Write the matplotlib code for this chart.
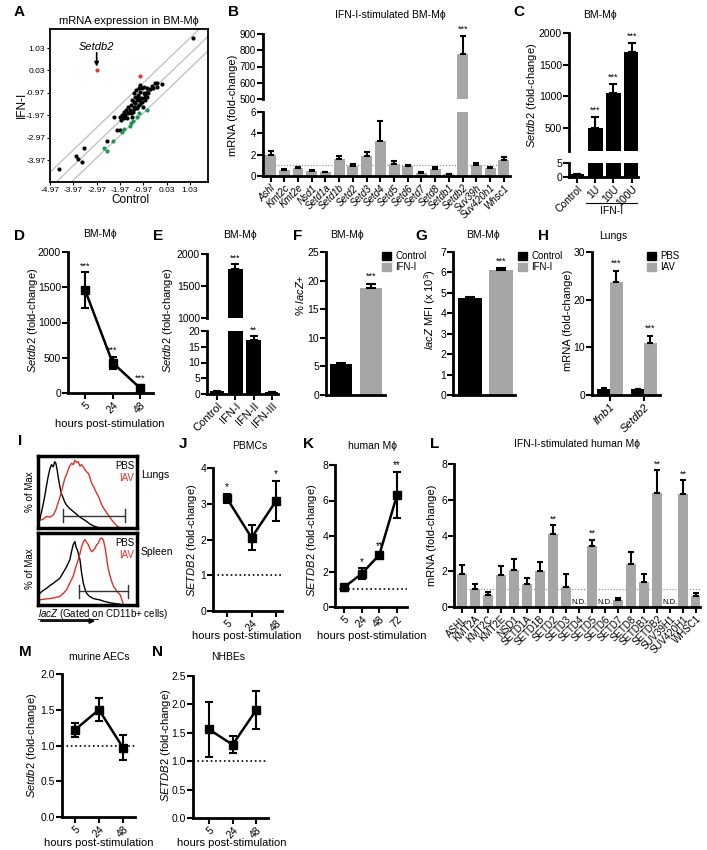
import numpy as np
import matplotlib
matplotlib.use('Agg')
import matplotlib.pyplot as plt
from matplotlib.lines import Line2D
from matplotlib.patches import FancyArrowPatch, Rectangle

plt.rcParams['font.family'] = ['Liberation Sans', 'DejaVu Sans']
plt.rcParams['mathtext.fontset'] = 'custom'
plt.rcParams['mathtext.it'] = 'Liberation Sans:italic'
plt.rcParams['mathtext.rm'] = 'Liberation Sans'

# ---------------- data ----------------
# A: scatter of log expression
a_black_x = [-2.11, -1.99, -2.21, -1.99, -1.92, -1.82, -1.75, -1.61, -1.54, -1.46, -1.39, -1.32,
             -1.25, -1.32, -1.18, -1.11, -1.04, -0.96, -0.82, -0.68, -0.61, -0.46, -0.18, -0.96,
             -1.14, -1.04, -0.94, -0.82, -1.25, -1.42, -1.65, -1.82, -1.89, -1.71, -1.51, -1.36,
             -1.22, -1.11, -0.99, -0.89, -0.75, -0.54, -0.39, -1.39, -1.28, -1.11, -1.61, -1.49,
             -1.35, -1.21, -1.06, -0.92, -1.46, -1.14, -0.82, -0.39,
             -4.58, -3.84, -3.76, -3.61, -3.51, -2.51, 1.14]
a_black_y = [-2.63, -2.63, -2.07, -2.07, -2.18, -1.81, -1.96, -1.89, -1.74, -2.04, -1.59, -1.44,
             -1.29, -1.14, -1.07, -0.92, -0.77, -0.70, -0.77, -0.82, -0.67, -0.55, -0.58, -0.99,
             -1.29, -1.37, -1.22, -1.14, -1.66, -1.81, -2.11, -2.11, -1.96, -1.74, -1.51, -1.37,
             -1.14, -1.47, -1.59, -1.29, -0.99, -0.77, -0.73, -0.99, -0.85, -0.62, -1.59, -1.89,
             -1.71, -1.56, -1.22, -1.07, -1.29, -0.77, -0.92, -0.52,
             -4.36, -3.79, -3.94, -4.07, -3.45, -3.14, 1.49]
a_green_x = [-2.65, -2.54, -2.29, -1.89, -1.79, -1.51, -1.42, -1.54, -1.25, -1.14, -0.82]
a_green_y = [-3.42, -3.55, -3.14, -2.73, -2.60, -2.30, -2.21, -2.45, -2.04, -1.89, -1.74]
a_red_x = [-2.97, -1.11]
a_red_y = [0.03, -0.22]
a_ticks = [-4.97, -3.97, -2.97, -1.97, -0.97, 0.03, 1.03]
a_diag = [0.45, -0.25, -0.9]

# B: mouse methyltransferases
b_genes = ['Ashl', 'Kmt2c', 'Kmt2e', 'Nsd1', 'Setd1a', 'Setd1b', 'Setd2', 'Setd3', 'Setd4',
           'Setd5', 'Setd6', 'Setd7', 'Setd8', 'Setdb1', 'Setdb2', 'Suv39h', 'Suv420h1', 'Whsc1']
b_vals = [1.97, 0.6, 0.76, 0.48, 0.38, 1.56, 0.95, 1.87, 3.3, 1.17, 0.92, 0.32, 0.7, 0.19, 780, 1.05, 0.75, 1.5]
b_errs = [0.4, 0.1, 0.13, 0.05, 0.04, 0.3, 0.19, 0.42, 1.84, 0.23, 0.1, 0.04, 0.13, 0.04, 108, 0.2, 0.1, 0.3]

# C: dose
c_labels = ['Control', '1U', '10U', '100U']
c_vals = [1, 500, 1050, 1700]
c_errs = [0, 170, 135, 140]

# D: time course BM-Mphi
d_hours = ['5', '24', '48']
d_vals = [1460, 430, 70]
d_errs = [250, 85, 50]

# E: IFN types
e_labels = ['Control', 'IFN-I', 'IFN-II', 'IFN-III']
e_vals = [1, 1760, 17.2, 0.5]
e_errs = [0, 80, 1.3, 0]

# F, G: lacZ reporter
fg_groups = ['Control', 'IFN-I']
f_vals = [5.4, 18.7]
f_errs = [0.15, 0.7]
g_vals = [4.75, 6.12]
g_errs = [0.05, 0.1]

# H: lungs
h_genes = ['Ifnb1', 'Setdb2']
h_pbs = [1.3, 1.2]
h_pbs_err = [0.1, 0.1]
h_iav = [23.8, 11.0]
h_iav_err = [2.3, 1.4]

# I: flow histograms (% of max)
i_lung_pbs_x = [0, 1.7, 4, 6.8, 8.5, 10.2, 12, 13.6, 15.3, 16.9, 18, 19.3, 20.5, 22.0, 23.5, 25.4, 27, 28.8,
                32, 35.6, 39, 42.4, 46, 49.2, 52, 55.9, 60, 62.7]
i_lung_pbs_y = [5, 11, 25, 44, 58, 71, 82, 88, 85, 92, 90, 81, 70, 58, 48, 42, 36, 32,
                27, 23, 19, 15, 12, 9, 6, 3, 1, 0]
i_lung_iav_x = [0, 1.7, 5, 8.5, 12, 15.3, 18, 20.3, 22, 23.7, 25.4, 27.1, 29, 30.5, 32, 33.9, 35.6, 37.3,
                39, 40.7, 42.4, 44.1, 46, 47.5, 49, 50.8, 52.5, 54.2, 56, 57.6, 59, 61.0, 62.7, 64.4,
                67, 69.5, 72, 74.6, 77, 79.7, 83.1]
i_lung_iav_y = [10, 11, 12, 16, 15, 18, 25, 35, 42, 51, 60, 69, 75, 81, 86, 90, 88, 94,
                91, 92, 86, 88, 84, 81, 78, 76, 70, 62, 58, 53, 49, 44, 38, 32,
                26, 21, 16, 11, 7, 3, 0]
i_spl_pbs_x = [0, 1.7, 5, 8.5, 12, 15.3, 18, 22.0, 25, 28.8, 30.5, 32.2, 34, 35.6, 37.3, 38.5, 39.7, 41,
               42.4, 44, 45.8, 47.5, 49.2, 52, 55.9, 59, 62.7, 67, 72.9, 78, 83.1]
i_spl_pbs_y = [17, 16, 20, 23, 27, 30, 33, 37, 44, 53, 58, 63, 75, 84, 88, 80, 77, 70,
               63, 45, 30, 22, 16, 12, 9, 8, 7, 5, 3, 2, 1]
i_spl_iav_x = [0, 6, 11.9, 17, 22.0, 25.5, 28.8, 32, 35.6, 38, 40.7, 42.5, 44.1, 46, 47.5, 49, 50.8, 52.5,
               54.2, 56, 57.6, 59, 61.0, 62.7, 64.4, 66.1, 68, 69.5, 71, 72.9, 74.6, 76.3, 79.7, 83.1, 86.4]
i_spl_iav_y = [7, 8, 9, 10, 12, 16, 21, 30, 40, 52, 63, 72, 81, 88, 91, 87, 84, 78,
               74, 76, 79, 83, 86, 92, 93, 90, 78, 63, 50, 40, 32, 26, 19, 14, 0]

# J: PBMCs
j_hours = ['5', '24', '48']
j_vals = [3.15, 2.05, 3.08]
j_errs = [0.12, 0.35, 0.57]

# K: human macrophages
k_hours = ['5', '24', '48', '72']
k_vals = [1.1, 1.87, 2.94, 6.31]
k_errs = [0.08, 0.3, 0.12, 1.3]

# L: human methyltransferases (None = not detected)
l_genes = ['ASHL', 'KMT2A', 'KMT2C', 'KMT2E', 'NSD1', 'SETD1A', 'SETD1B', 'SETD2', 'SETD3', 'SETD4',
           'SETD5', 'SETD6', 'SETD7', 'SETD8', 'SETDB1', 'SETDB2', 'SUV39H1', 'SUV420H1', 'WHSC1']
l_vals = [1.87, 1.03, 0.65, 1.81, 2.06, 1.27, 2.0, 4.1, 1.12, None,
          3.39, None, 0.4, 2.4, 1.42, 6.39, None, 6.32, 0.62]
l_errs = [0.5, 0.28, 0.18, 0.48, 0.6, 0.35, 0.52, 0.47, 0.7, None,
          0.38, None, 0.08, 0.65, 0.4, 1.27, None, 0.78, 0.15]
l_stars = {'SETD2': '**', 'SETD5': '**', 'SETDB2': '**', 'SUV420H1': '**'}

# M: murine AECs, N: NHBEs
m_hours = ['5', '24', '48']
m_vals = [1.22, 1.5, 0.97]
m_errs = [0.1, 0.16, 0.17]
n_hours = ['5', '24', '48']
n_vals = [1.56, 1.29, 1.9]
n_errs = [0.48, 0.15, 0.33]

GREY = '#a6a6a6'
MPHI = 'M\u03d5'

W, H = 707, 850
fig = plt.figure(figsize=(7.07, 8.5), dpi=100)


def box(x0, y0, x1, y1):
    return fig.add_axes([x0 / W, 1 - y1 / H, (x1 - x0) / W, (y1 - y0) / H])


def txt(x, y, s, **kw):
    kw.setdefault('ha', 'center')
    kw.setdefault('va', 'center')
    kw.setdefault('fontsize', 7.5)
    fig.text(x / W, 1 - y / H, s, **kw)


def letter(x, y, s):
    txt(x, y, s, fontsize=11, fontweight='bold', ha='left')


def style(ax, show_x=True, size=7.5):
    for s in ['top', 'right']:
        ax.spines[s].set_visible(False)
    ax.spines['left'].set_linewidth(2)
    ax.spines['bottom'].set_linewidth(2)
    ax.tick_params(width=1.5, length=4, labelsize=size, pad=1)
    if not show_x:
        ax.spines['bottom'].set_visible(False)
        ax.tick_params(axis='x', bottom=False, labelbottom=False)


def rot_labels(ax, labels, size=8, italic=False):
    ax.set_xticklabels(labels, rotation=45, ha='right', rotation_mode='anchor',
                       fontsize=size, style='italic' if italic else 'normal')


def line_panel(ax, hours, vals, errs):
    xs = np.arange(len(hours))
    ax.errorbar(xs, vals, yerr=errs, color='k', lw=1.8, marker='s', ms=5.5,
                capsize=3, capthick=1.5, elinewidth=1.5, clip_on=False, zorder=3)
    ax.set_xticks(xs)
    rot_labels(ax, hours, size=8)


def legend_boxes(x_box, x_text, names, colors):
    for k, (name, col) in enumerate(zip(names, colors)):
        yy = 256 + k * 11
        fig.add_artist(Rectangle((x_box / W, 1 - (yy + 4) / H), 9 / W, 8 / H, color=col,
                                 transform=fig.transFigure))
        txt(x_text, yy, name, fontsize=7, ha='left')


err_kw = dict(elinewidth=1.5, capthick=1.5, ecolor='k')

# ---------------- A ----------------
axA = box(50, 29, 208, 182)
for c in a_diag:
    xx = np.array([-6, 3])
    axA.plot(xx, xx + c, color='#c4c4c4', lw=1, zorder=1)
axA.scatter(a_black_x, a_black_y, s=9, color='k', zorder=3, linewidths=0)
axA.scatter(a_green_x, a_green_y, s=9, color='#1e9650', zorder=3, linewidths=0)
axA.scatter(a_red_x, a_red_y, s=9, color='#e03a2c', zorder=3, linewidths=0)
axA.set_xlim(-4.97, 1.8)
axA.set_ylim(-4.95, 1.88)
axA.set_xticks(a_ticks)
axA.set_xticklabels(['%.2f' % t for t in a_ticks], fontsize=6)
axA.set_yticks(a_ticks[:0:-1])
axA.set_yticklabels(['%.2f' % t for t in a_ticks[:0:-1]], fontsize=6)
axA.tick_params(length=2.5, width=0.8, pad=1)
for s in axA.spines.values():
    s.set_linewidth(1.3)
axA.text(-2.97, 1.08, 'Setdb2', ha='center', va='center', fontsize=8, style='italic')
axA.annotate('', xy=(-2.97, 0.2), xytext=(-2.97, 0.82),
             arrowprops=dict(arrowstyle='-|>', color='k', lw=1.2, shrinkA=0, shrinkB=0, mutation_scale=6))
txt(129, 21, 'mRNA expression in BM-' + MPHI, fontsize=8)
txt(130, 200, 'Control', fontsize=8.5)
txt(22, 105, 'IFN-I', fontsize=8.5, rotation=90)
letter(14, 12, 'A')

# ---------------- B ----------------
xb = np.arange(len(b_genes))
bt = box(263, 34, 510, 99)
bb = box(263, 112, 510, 176)
for ax in (bt, bb):
    ax.bar(xb, b_vals, width=0.8, color=GREY, yerr=[np.zeros(len(b_vals)), b_errs],
           capsize=2.5, error_kw=err_kw)
    ax.set_xlim(-0.55, 17.45)
bt.set_ylim(500, 900)
bt.set_yticks([500, 600, 700, 800, 900])
bb.set_ylim(0, 6)
bb.set_yticks([0, 2, 4, 6])
style(bt, show_x=False, size=7)
style(bb, size=7)
bb.axhline(1, color='#888888', lw=0.8, ls=':', zorder=0)
bb.set_xticks(xb)
rot_labels(bb, b_genes, size=7, italic=True)
bt.text(14, 780 + 108 + 12, '***', ha='center', va='bottom', fontsize=6.5)
txt(390, 15, 'IFN-I-stimulated BM-' + MPHI, fontsize=7.5)
txt(233, 105, 'mRNA (fold-change)', fontsize=8, rotation=90)
letter(228, 12, 'B')

# ---------------- C ----------------
xc = np.arange(len(c_labels))
ct = box(569, 33, 638, 151)
cb = box(569, 163, 638, 177)
for ax in (ct, cb):
    ax.bar(xc, c_vals, width=0.8, color='k', yerr=[np.zeros(4), c_errs], capsize=3, error_kw=err_kw)
    ax.set_xlim(-0.45, 3.35)
ct.set_ylim(130, 2000)
ct.set_yticks([500, 1000, 1500, 2000])
cb.set_ylim(0, 5)
cb.set_yticks([0, 5])
style(ct, show_x=False)
style(cb)
cb.set_xticks(xc)
rot_labels(cb, c_labels, size=7.5)
for i in range(1, 4):
    ct.text(i, c_vals[i] + c_errs[i] + 40, '***', ha='center', va='bottom', fontsize=6.5)
fig.add_artist(Line2D([586 / W, 637 / W], [1 - 203 / H] * 2, color='k', lw=0.8))
txt(612, 211, 'IFN-I', fontsize=7.5)
txt(600, 15, 'BM-' + MPHI, fontsize=7.5)
txt(532, 95, r'$\mathit{Setdb2}$ (fold-change)', fontsize=8, rotation=90)
letter(513, 12, 'C')

# ---------------- D ----------------
axD = box(68, 252, 153, 393)
line_panel(axD, d_hours, d_vals, d_errs)
axD.set_xlim(-0.62, 2.47)
axD.set_ylim(0, 2000)
axD.set_yticks([0, 500, 1000, 1500, 2000])
style(axD)
for i in range(3):
    axD.text(i, d_vals[i] + d_errs[i] + 30, '***', ha='center', va='bottom', fontsize=6.5)
txt(110, 424, 'hours post-stimulation', fontsize=8)
txt(100, 234, 'BM-' + MPHI, fontsize=7.5)
txt(33, 320, r'$\mathit{Setdb2}$ (fold-change)', fontsize=8, rotation=90)
letter(14, 236, 'D')

# ---------------- E ----------------
xe = np.arange(len(e_labels))
et = box(207, 254, 278, 318)
eb = box(207, 331, 278, 394)
for ax in (et, eb):
    ax.bar(xe, e_vals, width=0.8, color='k', yerr=[np.zeros(4), e_errs], capsize=3, error_kw=err_kw)
    ax.set_xlim(-0.55, 3.33)
et.set_ylim(1000, 2000)
et.set_yticks([1000, 1500, 2000])
eb.set_ylim(0, 20)
eb.set_yticks([0, 5, 10, 15, 20])
style(et, show_x=False)
style(eb)
eb.set_xticks(xe)
rot_labels(eb, e_labels, size=8)
et.text(1, 1760 + 80 + 20, '***', ha='center', va='bottom', fontsize=6.5)
eb.text(2, 17.2 + 1.3 + 0.3, '**', ha='center', va='bottom', fontsize=6.5)
txt(240, 235, 'BM-' + MPHI, fontsize=7.5)
txt(168, 320, r'$\mathit{Setdb2}$ (fold-change)', fontsize=8, rotation=90)
letter(153, 236, 'E')

# ---------------- F ----------------
axF = box(326, 252, 385, 395)
axF.bar([0, 1], f_vals, width=0.75, color=['k', GREY], yerr=[[0, 0], f_errs], capsize=3.5, error_kw=err_kw)
axF.set_xlim(-0.5, 1.47)
axF.set_ylim(0, 25)
axF.set_yticks([0, 5, 10, 15, 20, 25])
axF.set_xticks([])
style(axF)
axF.text(1, f_vals[1] + f_errs[1] + 0.5, '***', ha='center', va='bottom', fontsize=6.5)
txt(347, 235, 'BM-' + MPHI, fontsize=7.5)
txt(300, 295, r'% $\mathit{lacZ}$+', fontsize=8, rotation=90)
letter(293, 236, 'F')
legend_boxes(382, 395, fg_groups, ['k', GREY])

# ---------------- G ----------------
axG = box(453, 252, 515, 395)
axG.bar([0, 1], g_vals, width=0.8, color=['k', GREY], yerr=[[0, 0], g_errs], capsize=3.5, error_kw=err_kw)
axG.set_xlim(-0.55, 1.45)
axG.set_ylim(0, 7)
axG.set_yticks(range(8))
axG.set_xticks([])
style(axG)
axG.text(1, g_vals[1] + g_errs[1] + 0.1, '***', ha='center', va='bottom', fontsize=6.5)
txt(483, 235, 'BM-' + MPHI, fontsize=7.5)
txt(430, 310, r'$\mathit{lacZ}$ MFI (x 10$^3$)', fontsize=8, rotation=90)
letter(415, 236, 'G')
legend_boxes(518, 531, fg_groups, ['k', GREY])

# ---------------- H ----------------
axH = box(592, 252, 660, 395)
xh = np.arange(len(h_genes))
axH.bar(xh - 0.19, h_pbs, width=0.36, color='k', yerr=[[0, 0], h_pbs_err], capsize=2.5, error_kw=err_kw)
axH.bar(xh + 0.19, h_iav, width=0.36, color=GREY, yerr=[[0, 0], h_iav_err], capsize=2.5, error_kw=err_kw)
axH.set_xlim(-0.53, 1.47)
axH.set_ylim(0, 30)
axH.set_yticks([0, 10, 20, 30])
style(axH)
axH.set_xticks(xh)
rot_labels(axH, h_genes, size=8, italic=True)
for i in range(2):
    axH.text(i + 0.19, h_iav[i] + h_iav_err[i] + 0.6, '***', ha='center', va='bottom', fontsize=6.5)
legend_boxes(647, 660, ['PBS', 'IAV'], ['k', GREY])
txt(613, 236, 'Lungs', fontsize=7.5)
txt(568, 320, 'mRNA (fold-change)', fontsize=8, rotation=90)
letter(538, 236, 'H')

# ---------------- I ----------------
for (y0, y1, px, py, ix, iy, gate, tissue) in (
        (456, 528, i_lung_pbs_x, i_lung_pbs_y, i_lung_iav_x, i_lung_iav_y, (25.4, 88.1, 17), 'Lungs'),
        (533, 605, i_spl_pbs_x, i_spl_pbs_y, i_spl_iav_x, i_spl_iav_y, (41.7, 90.8, 19), 'Spleen')):
    ax = box(38, y0, 137, y1)
    ax.plot(px, py, color='k', lw=1)
    ax.plot(ix, iy, color='#e0302a', lw=1)
    g0, g1, gy = gate
    ax.plot([g0, g1], [gy, gy], color='#333333', lw=1)
    ax.plot([g0, g0], [gy - 9, gy + 9], color='#333333', lw=1)
    ax.plot([g1, g1], [gy - 9, gy + 9], color='#333333', lw=1)
    ax.set_xlim(0, 100)
    ax.set_ylim(0, 100)
    ax.set_xticks([])
    ax.set_yticks([])
    for s in ax.spines.values():
        s.set_linewidth(2.5)
    ax.text(97, 86, 'PBS', ha='right', va='center', fontsize=7)
    ax.text(97, 70, 'IAV', ha='right', va='center', fontsize=7, color='#e0302a')
    txt(141, (y0 + y1) / 2 - 17, tissue, fontsize=7.5, ha='left')
    txt(30, (y0 + y1) / 2, '% of Max', fontsize=7, rotation=90)
txt(38, 614, r'$\mathit{lacZ}$ (Gated on CD11b+ cells)', fontsize=7, ha='left')
fig.add_artist(Line2D([38 / W, 98 / W], [1 - 619 / H] * 2, color='k', lw=0.6))
fig.add_artist(FancyArrowPatch((38 / W, 1 - 621 / H), (98 / W, 1 - 621 / H),
                               transform=fig.transFigure, arrowstyle='-|>',
                               mutation_scale=7, lw=1.3, color='k'))
letter(18, 441, 'I')

# ---------------- J ----------------
axJ = box(213, 468, 282, 611)
line_panel(axJ, j_hours, j_vals, j_errs)
axJ.axhline(1, color='k', lw=1.2, ls=':', zorder=0)
axJ.set_xlim(-0.57, 2.24)
axJ.set_ylim(0, 4)
axJ.set_yticks([0, 1, 2, 3, 4])
style(axJ)
for i in (0, 2):
    axJ.text(i, j_vals[i] + j_errs[i] + 0.05, '*', ha='center', va='bottom', fontsize=7)
txt(247, 636, 'hours post-stimulation', fontsize=8)
txt(250, 446, 'PBMCs', fontsize=7.5)
txt(192, 540, r'$\mathit{SETDB2}$ (fold-change)', fontsize=8, rotation=90)
letter(179, 444, 'J')

# ---------------- K ----------------
axK = box(335, 465, 407, 607)
line_panel(axK, k_hours, k_vals, k_errs)
axK.axhline(1, color='k', lw=1.2, ls=':', zorder=0)
axK.set_xlim(-0.5, 3.56)
axK.set_ylim(0, 8)
axK.set_yticks([0, 2, 4, 6, 8])
style(axK)
for i, st in ((1, '*'), (2, '**'), (3, '**')):
    axK.text(i, k_vals[i] + k_errs[i] + 0.1, st, ha='center', va='bottom', fontsize=7)
txt(372, 636, 'hours post-stimulation', fontsize=8)
txt(372, 446, 'human ' + MPHI, fontsize=7.5)
txt(312, 540, r'$\mathit{SETDB2}$ (fold-change)', fontsize=8, rotation=90)
letter(303, 444, 'K')

# ---------------- L ----------------
axL = box(454, 464, 700, 607)
xl = np.arange(len(l_genes))
for i, (v, e) in enumerate(zip(l_vals, l_errs)):
    if v is None:
        axL.text(i, 0.05, 'N.D.', ha='center', va='bottom', fontsize=5.5)
        continue
    axL.bar(i, v, width=0.75, color=GREY, yerr=[[0], [e]], capsize=2.2, error_kw=err_kw)
    if l_genes[i] in l_stars:
        axL.text(i, v + e + 0.1, l_stars[l_genes[i]], ha='center', va='bottom', fontsize=6.5)
axL.axhline(1, color='#888888', lw=0.8, ls=':', zorder=0)
axL.set_xlim(-0.6, 18.3)
axL.set_ylim(0, 8)
axL.set_yticks([0, 2, 4, 6, 8])
style(axL)
axL.set_xticks(xl)
rot_labels(axL, l_genes, size=7)
txt(577, 444, 'IFN-I-stimulated human ' + MPHI, fontsize=7.5)
txt(432, 535, 'mRNA (fold-change)', fontsize=8, rotation=90)
letter(430, 444, 'L')

# ---------------- M ----------------
axM = box(62, 674, 135, 817)
line_panel(axM, m_hours, m_vals, m_errs)
axM.axhline(1, color='k', lw=1.2, ls=':', zorder=0)
axM.set_xlim(-0.54, 2.5)
axM.set_ylim(0, 2)
axM.set_yticks([0, 0.5, 1.0, 1.5, 2.0])
axM.set_yticklabels(['0.0', '0.5', '1.0', '1.5', '2.0'])
style(axM)
txt(99, 843, 'hours post-stimulation', fontsize=8)
txt(99, 657, 'murine AECs', fontsize=7.5)
txt(32, 745, r'$\mathit{Setdb2}$ (fold-change)', fontsize=8, rotation=90)
letter(19, 652, 'M')

# ---------------- N ----------------
axN = box(193, 676, 268, 818)
line_panel(axN, n_hours, n_vals, n_errs)
axN.axhline(1, color='k', lw=1.2, ls=':', zorder=0)
axN.set_xlim(-0.68, 2.5)
axN.set_ylim(0, 2.5)
axN.set_yticks([0, 0.5, 1.0, 1.5, 2.0, 2.5])
axN.set_yticklabels(['0.0', '0.5', '1.0', '1.5', '2.0', '2.5'])
style(axN)
txt(232, 843, 'hours post-stimulation', fontsize=8)
txt(228, 657, 'NHBEs', fontsize=7.5)
txt(166, 745, r'$\mathit{SETDB2}$ (fold-change)', fontsize=8, rotation=90)
letter(152, 652, 'N')

fig.savefig('out.png', dpi=100)
